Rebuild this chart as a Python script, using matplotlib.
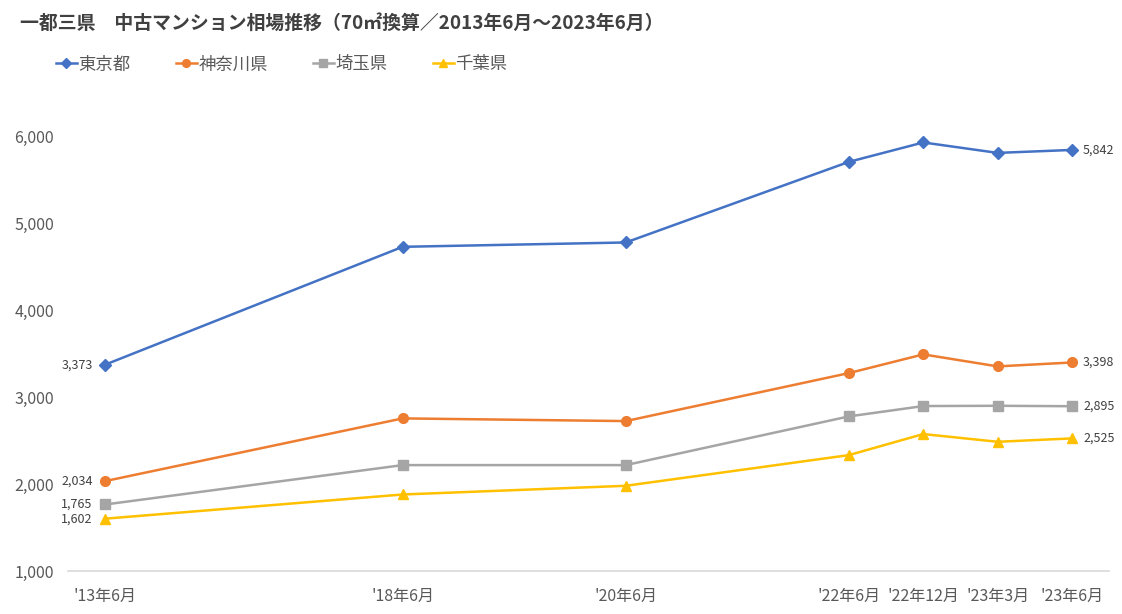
import matplotlib
matplotlib.use("Agg")
import matplotlib.pyplot as plt

plt.rcParams['font.family'] = ['Noto Sans CJK JP', 'DejaVu Sans']

# category slots on the x axis (some slots are empty in the original)
x_pos = [0, 4, 7, 10, 11, 12, 13]
x_labels = ["'13年6月", "'18年6月", "'20年6月", "'22年6月", "'22年12月", "'23年3月", "'23年6月"]

tokyo = [3373, 4728, 4778, 5705, 5928, 5808, 5842]
kanagawa = [2034, 2755, 2724, 3276, 3491, 3353, 3398]
saitama = [1765, 2218, 2218, 2778, 2897, 2900, 2895]
chiba = [1602, 1880, 1980, 2333, 2575, 2486, 2525]

series = [
    ('東京都', tokyo, '#4472C4', 'D', 6),
    ('神奈川県', kanagawa, '#ED7D31', 'o', 7),
    ('埼玉県', saitama, '#A5A5A5', 's', 6.5),
    ('千葉県', chiba, '#FFC000', '^', 7.5),
]

fig = plt.figure(figsize=(11.22, 6.14), dpi=100)
ax = fig.add_axes([0.0606, 0.070, 0.928, 0.779])

for name, vals, color, marker, ms in series:
    ax.plot(x_pos, vals, color=color, marker=marker, markersize=ms,
            linewidth=1.8, label=name)
    ax.annotate(f'{vals[0]:,}', (x_pos[0], vals[0]), xytext=(-9, 0),
                textcoords='offset points', ha='right', va='center',
                fontsize=9, color='#404040')
    ax.annotate(f'{vals[-1]:,}', (x_pos[-1], vals[-1]), xytext=(8, 0),
                textcoords='offset points', ha='left', va='center',
                fontsize=9, color='#404040')

ax.set_xlim(-0.5, 13.5)
ax.set_ylim(1000, 6500)
ax.set_yticks([1000, 2000, 3000, 4000, 5000, 6000])
ax.set_yticklabels([f'{v:,}' for v in [1000, 2000, 3000, 4000, 5000, 6000]])
ax.set_xticks(x_pos)
ax.set_xticklabels(x_labels)
ax.tick_params(axis='both', length=0, colors='#595959', labelsize=11.5)
ax.tick_params(axis='x', pad=12)
ax.tick_params(axis='y', pad=10)

for side in ['top', 'right', 'left']:
    ax.spines[side].set_visible(False)
ax.spines['bottom'].set_color('#D9D9D9')
ax.spines['bottom'].set_linewidth(1.2)

fig.text(0.018, 0.962, '一都三県　中古マンション相場推移（70㎡換算／2013年6月～2023年6月）',
         fontsize=13.6, fontweight='bold', color='#404040', va='center', ha='left')

fig.legend(loc='center left', bbox_to_anchor=(0.036, 0.895), ncol=4,
           frameon=False, fontsize=12.5, handlelength=1.2, handletextpad=0.1,
           columnspacing=2.6, markerscale=0.8, labelcolor='#595959')

fig.savefig('out.png', dpi=100)
